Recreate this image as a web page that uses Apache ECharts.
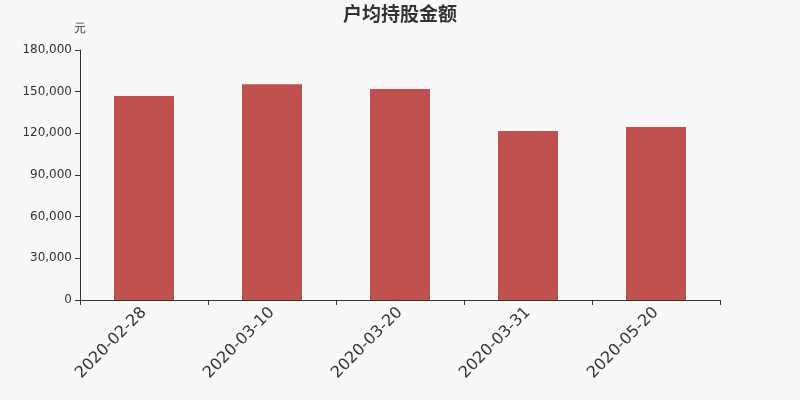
<!DOCTYPE html>
<html>
<head>
<meta charset="utf-8">
<script src="https://cdn.jsdelivr.net/npm/echarts@6/dist/echarts.min.js"></script>
<style>
html,body{margin:0;padding:0;background:#f8f8f8;}
#main{width:800px;height:400px;}
</style>
</head>
<body>
<div id="main"></div>
<script>
var categories = ["2020-02-28", "2020-03-10", "2020-03-20", "2020-03-31", "2020-05-20"];
var values = [146900, 155400, 151900, 121700, 124600];

var chart = echarts.init(document.getElementById('main'));
var option = {
    backgroundColor: '#f8f8f8',
    textStyle: {fontFamily: 'DejaVu Sans'},
    title: {
        text: '户均持股金额',
        left: 'center',
        top: -1,
        textStyle: {color: '#333', fontSize: 19, fontWeight: 'bold', fontFamily: 'Noto Sans CJK SC'}
    },
    grid: {left: 80, right: 80, top: 50, bottom: 100},
    xAxis: {
        type: 'category',
        data: categories,
        axisLine: {lineStyle: {color: '#333'}},
        axisTick: {show: true, alignWithLabel: false},
        axisLabel: {rotate: 45, fontSize: 16, color: '#333', margin: 10, fontFamily: 'DejaVu Sans'}
    },
    yAxis: {
        type: 'value',
        name: '元',
        nameGap: 15,
        nameTextStyle: {color: '#333', fontSize: 12, align: 'center'},
        min: 0,
        max: 180000,
        interval: 30000,
        axisLine: {show: true, lineStyle: {color: '#333'}},
        axisTick: {show: true},
        splitLine: {show: false},
        axisLabel: {
            color: '#333',
            fontSize: 12,
            fontFamily: 'DejaVu Sans',
            formatter: function (v) { return v.toLocaleString('en-US'); }
        }
    },
    series: [{
        type: 'bar',
        data: values,
        barWidth: 60,
        itemStyle: {color: '#c0504d'}
    }]
};
chart.setOption(option);
</script>
</body>
</html>
